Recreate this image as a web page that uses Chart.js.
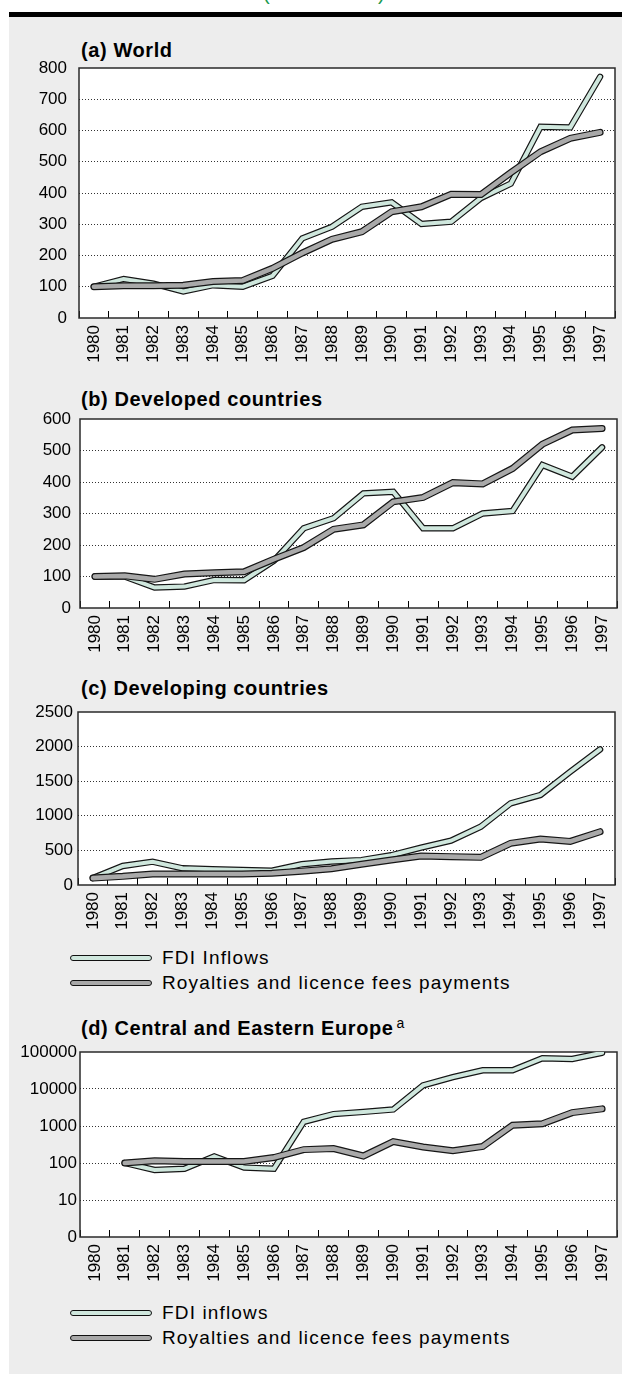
<!DOCTYPE html>
<html><head><meta charset="utf-8">
<script src="https://cdn.jsdelivr.net/npm/chart.js@4.4.1/dist/chart.umd.min.js"></script>
<style>
html,body{margin:0;padding:0;background:#fff;}
body{width:622px;height:1374px;position:relative;overflow:hidden;font-family:"Liberation Sans",Arial,sans-serif;}
#bg{position:absolute;left:9px;top:17px;width:613px;height:1357px;background:#ededed;}
#bar{position:absolute;left:9px;top:12px;width:613px;height:5px;background:#000;}
#top{position:absolute;left:263px;top:-17px;font-size:20px;line-height:20px;color:#1a9a50;letter-spacing:0.7px;white-space:nowrap;}
.title{position:absolute;left:81px;font-weight:bold;font-size:20px;line-height:24px;letter-spacing:0.6px;white-space:nowrap;color:#000;}
.title sup{font-weight:normal;font-size:14px;letter-spacing:0;vertical-align:0;position:relative;top:-7px;margin-left:3px;}
.box{position:absolute;left:0;width:622px;}
.legrow{position:absolute;left:70px;height:22px;width:520px;}
.legtxt{position:absolute;left:92px;top:0;font-size:19px;line-height:22px;letter-spacing:1.15px;white-space:nowrap;color:#000;}
.sym{position:absolute;left:0;width:80px;border:1.2px solid #111;border-radius:5px;}
.sym.fdi{top:8px;height:3.6px;background:#cfe7dd;}
.sym.roy{top:7.5px;height:4.6px;background:#a8a8a8;}
</style>
</head>
<body>
<div id="bg"></div>
<div id="bar"></div>
<div id="top">(1980 = 100)</div>

<div class="title" style="top:38px">(a) World</div>
<div class="box" style="top:58px;height:308px"><canvas id="cA" width="622" height="308"></canvas></div>

<div class="title" style="top:387px">(b) Developed countries</div>
<div class="box" style="top:409px;height:247px"><canvas id="cB" width="622" height="247"></canvas></div>

<div class="title" style="top:676px">(c) Developing countries</div>
<div class="box" style="top:702px;height:231px"><canvas id="cC" width="622" height="231"></canvas></div>

<div class="legrow" style="top:947px"><div class="sym fdi"></div><div class="legtxt" id="lc1"></div></div>
<div class="legrow" style="top:972px"><div class="sym roy"></div><div class="legtxt" id="lc2"></div></div>

<div class="title" style="top:1016px">(d) Central and Eastern Europe<sup>a</sup></div>
<div class="box" style="top:1042px;height:243px"><canvas id="cD" width="622" height="243"></canvas></div>

<div class="legrow" style="top:1302px"><div class="sym fdi"></div><div class="legtxt" id="ld1"></div></div>
<div class="legrow" style="top:1327px"><div class="sym roy"></div><div class="legtxt" id="ld2"></div></div>

<script>
// ---- data ----
const years = ['1980','1981','1982','1983','1984','1985','1986','1987','1988','1989','1990','1991','1992','1993','1994','1995','1996','1997'];

const fdiWorld = [100,125,110,85,105,100,135,255,292,356,370,301,308,384,430,612,610,772];
const royWorld = [100,103,103,105,117,120,159,208,252,276,340,356,396,395,465,532,575,594];

const fdiDeveloped = [100,100,65,68,89,88,150,253,285,364,369,253,253,300,308,454,417,510];
const royDeveloped = [100,102,91,108,112,115,155,192,250,264,337,351,398,394,443,520,565,570];

const fdiDeveloping = [100,275,337,241,227,217,207,300,340,360,430,540,640,843,1180,1300,1637,1960];
const royDeveloping = [100,125,160,160,160,160,170,200,235,300,360,420,410,400,602,665,630,770];

const fdiCEE = [null,100,65,70,150,75,70,1300,2100,2400,2800,12500,21000,32000,32000,68000,65000,95000];
const royCEE = [null,100,115,110,110,110,140,230,245,155,380,270,215,280,1050,1150,2300,2900];

const yTicksCEE = [1,10,100,1000,10000,100000];
const yTickLabelsCEE = ['0','10','100','1000','10000','100000'];

const legendC = ['FDI Inflows','Royalties and licence fees payments'];
const legendD = ['FDI inflows','Royalties and licence fees payments'];

// ---- legends ----
document.getElementById('lc1').textContent = legendC[0];
document.getElementById('lc2').textContent = legendC[1];
document.getElementById('ld1').textContent = legendD[0];
document.getElementById('ld2').textContent = legendD[1];

// ---- chart helpers ----
const FONT = {family:'"Liberation Sans", Arial, sans-serif', size:17};
const frame = {
  id:'frame',
  beforeDraw(c){const a=c.chartArea,x=c.ctx;x.save();x.fillStyle='#fff';x.fillRect(a.left,a.top,a.right-a.left,a.bottom-a.top);x.restore();},
  beforeDatasetsDraw(c){const a=c.chartArea,x=c.ctx;x.save();x.strokeStyle='#2a2a2a';x.lineWidth=1.5;x.strokeRect(a.left,a.top,a.right-a.left,a.bottom-a.top);x.restore();}
};

function makeChart(id, fdi, roy, yScale, leftW, rightPad, plotH, yPad){
  const base = {pointRadius:0, pointHoverRadius:0, borderCapStyle:'round', borderJoinStyle:'miter', tension:0, fill:false, spanGaps:false};
  const ds = [
    {data:fdi, borderColor:'#151515', borderWidth:6.4, order:4},
    {data:fdi, borderColor:'#cfe7dd', borderWidth:4.0, order:3},
    {data:roy, borderColor:'#151515', borderWidth:7.0, order:2},
    {data:roy, borderColor:'#a9a9a9', borderWidth:4.6, order:1}
  ].map(d=>Object.assign({}, base, d));
  const canvas = document.getElementById(id);
  const xH = canvas.height - 10 - plotH;
  const yMin = yScale.min, yMax = yScale.max;
  new Chart(canvas, {
    type:'line',
    data:{labels:years, datasets:ds},
    options:{
      responsive:false, animation:false, devicePixelRatio:1,
      layout:{padding:{top:10,right:rightPad,left:0,bottom:0}},
      plugins:{legend:{display:false}, tooltip:{enabled:false}},
      events:[],
      scales:{
        x:{
          offset:true,
          grid:{offset:true, drawOnChartArea:false, drawTicks:true, tickLength:-7, color:'#000', lineWidth:1},
          border:{display:false},
          ticks:{minRotation:90, maxRotation:90, autoSkip:false, padding:14, color:'#000', font:FONT},
          afterFit(s){ s.height = xH; s.paddingLeft = 0; s.paddingRight = 0; }
        },
        y: Object.assign({
          grid:{drawTicks:false, lineWidth:1, color:(ctx)=> (ctx.tick && (ctx.tick.value===yMin || ctx.tick.value===yMax)) ? 'rgba(0,0,0,0)' : '#333'},
          border:{display:false, dash:[1,2]},
          afterFit(s){ s.width = leftW; s.paddingTop = 0; s.paddingBottom = 0; }
        }, yScale, {ticks:Object.assign({padding:yPad, color:'#000', font:FONT, callback:(v)=>String(v)}, yScale.ticks||{})})
      }
    },
    plugins:[frame]
  });
}

makeChart('cA', fdiWorld, royWorld, {type:'linear', min:0, max:800, ticks:{stepSize:100}}, 79, 7, 250, 12);
makeChart('cB', fdiDeveloped, royDeveloped, {type:'linear', min:0, max:600, ticks:{stepSize:100}}, 80, 5, 189, 9);
makeChart('cC', fdiDeveloping, royDeveloping, {type:'linear', min:0, max:2500, ticks:{stepSize:500}}, 78, 7, 173, 5);
makeChart('cD', fdiCEE, royCEE, {
  type:'logarithmic', min:1, max:100000,
  afterBuildTicks(s){ s.ticks = yTicksCEE.map(v=>({value:v, major:true})); },
  ticks:{callback:(v)=>{const i=yTicksCEE.indexOf(v); return i>=0 ? yTickLabelsCEE[i] : '';}}
}, 80, 5, 185, 3);
</script>
</body></html>
